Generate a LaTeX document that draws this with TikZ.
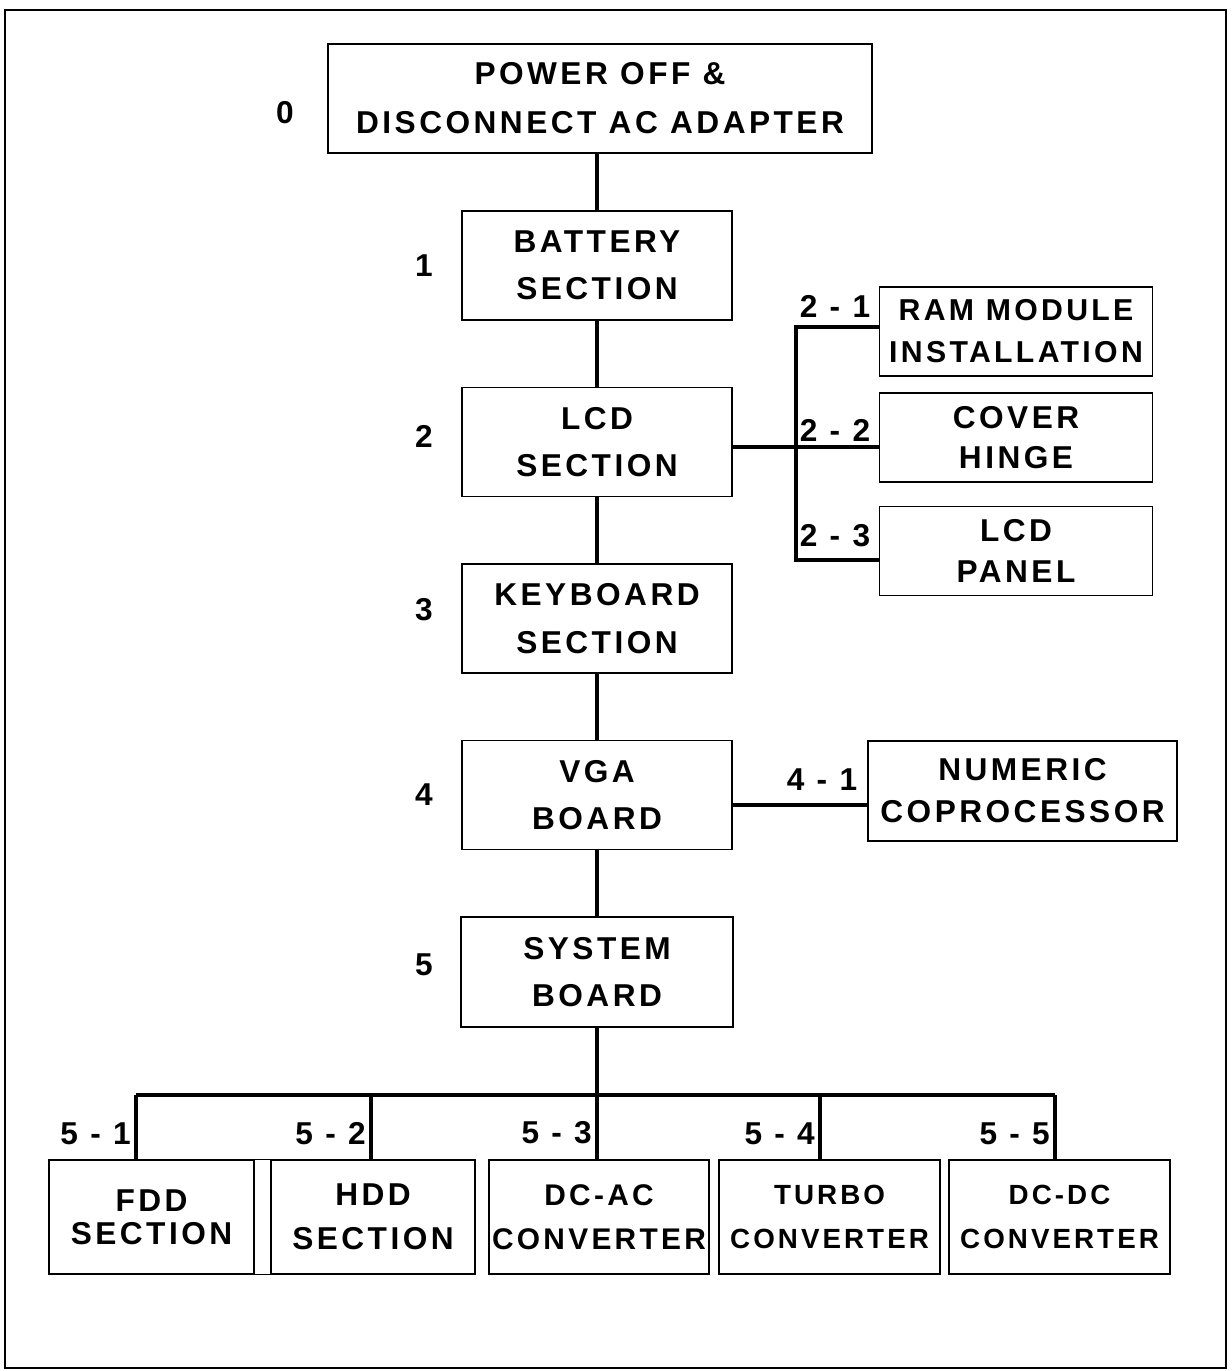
\documentclass[tikz,border=0pt]{standalone}
\usepackage{fontspec}
\setmainfont{Liberation Sans}
\newfontfamily\chartfont{Liberation Sans}[LetterSpace=11, WordSpace=1.35]
\newfontfamily\tagfont{Liberation Sans}[LetterSpace=11]
\usetikzlibrary{positioning}

\begin{document}
\begin{tikzpicture}[x=0.02cm, y=-0.02cm]
    \tikzstyle{sbox}=[rectangle, draw=black, line width=0.8pt, inner sep=0pt,
                      align=center, font=\chartfont\bfseries\fontsize{18}{27}\selectfont]
    \tikzstyle{wire}=[line width=2pt, black]
    \tikzstyle{num}=[font=\tagfont\bfseries\fontsize{18}{20}\selectfont, inner sep=2pt]

    \useasboundingbox (0,0) rectangle (1231,1371);
    \draw[line width=0.9pt] (5,10) rectangle (1226,1368);

    % main column
    \node[sbox, minimum width=10.88cm, minimum height=2.18cm,
          font=\chartfont\bfseries\fontsize{18}{28}\selectfont] (pwr) at (600,98.5)
          {POWER OFF \&\\DISCONNECT AC ADAPTER};
    \node[sbox, minimum width=5.4cm, minimum height=2.18cm] (bat) at (597,265.5) {BATTERY\\SECTION};
    \node[sbox, minimum width=5.4cm, minimum height=2.18cm] (lcd) at (597,442) {LCD\\SECTION};
    \node[sbox, minimum width=5.4cm, minimum height=2.18cm] (kbd) at (597,618.5) {KEYBOARD\\SECTION};
    \node[sbox, minimum width=5.4cm, minimum height=2.18cm] (vga) at (597,795) {VGA\\BOARD};
    \node[sbox, minimum width=5.44cm, minimum height=2.2cm] (sys) at (597,972) {SYSTEM\\BOARD};

    % step numbers
    \node[num] (n0) at (285,113) {0};
    \node[num] (n1) at (424,266) {1};
    \node[num] (n2) at (424,436) {2};
    \node[num] (n3) at (424,610) {3};
    \node[num] (n4) at (424,795) {4};
    \node[num] (n5) at (424,965) {5};

    % LCD branch
    \node[sbox, minimum width=5.45cm, minimum height=1.78cm,
          font=\chartfont\bfseries\fontsize{17.2}{24}\selectfont] (ram) at (1016,331.5)
          {RAM MODULE\\INSTALLATION};
    \node[sbox, minimum width=5.45cm, minimum height=1.78cm,
          font=\chartfont\bfseries\fontsize{18}{23}\selectfont] (hng) at (1016,437.5) {COVER\\HINGE};
    \node[sbox, minimum width=5.45cm, minimum height=1.78cm,
          font=\chartfont\bfseries\fontsize{18}{23}\selectfont] (pnl) at (1016,551) {LCD\\PANEL};

    % VGA branch
    \node[sbox, minimum width=6.18cm, minimum height=2.0cm,
          font=\chartfont\bfseries\fontsize{18}{24}\selectfont] (cop) at (1022.5,791)
          {NUMERIC\\COPROCESSOR};

    % system board parts
    \node[sbox, minimum width=4.1cm, minimum height=2.28cm,
          font=\chartfont\bfseries\fontsize{18}{19}\selectfont] (fdd) at (151.5,1217) {FDD\\SECTION};
    \node[sbox, minimum width=4.08cm, minimum height=2.28cm,
          font=\chartfont\bfseries\fontsize{18}{25}\selectfont] (hdd) at (373,1217) {HDD\\SECTION};
    \node[sbox, minimum width=4.4cm, minimum height=2.28cm,
          font=\chartfont\bfseries\fontsize{17}{25}\selectfont] (dca) at (599,1217) {DC-AC\\CONVERTER};
    \node[sbox, minimum width=4.42cm, minimum height=2.28cm,
          font=\chartfont\bfseries\fontsize{15.8}{25}\selectfont] (tbo) at (829.5,1217) {TURBO\\CONVERTER};
    \node[sbox, minimum width=4.42cm, minimum height=2.28cm,
          font=\chartfont\bfseries\fontsize{15.8}{25}\selectfont] (dcd) at (1059.5,1217) {DC-DC\\CONVERTER};
    \draw[line width=0.8pt] (fdd.north east) rectangle (hdd.south west);

    % spine
    \draw[wire] (bat.north |- pwr.south) -- (bat.north);
    \draw[wire] (bat) -- (lcd);
    \draw[wire] (lcd) -- (kbd);
    \draw[wire] (kbd) -- (vga);
    \draw[wire] (vga) -- (sys);

    % LCD taps
    \coordinate (tap) at (796,447);
    \coordinate (rtop) at (796,327);
    \coordinate (rbot) at (796,560);
    \draw[wire] (lcd.east |- tap) -- (tap) -- (tap -| hng.west);
    \draw[wire] (ram.west |- rtop) -- (rtop) -- (rbot) -- (rbot -| pnl.west);
    \node[num] (l21) at (835,306) {2 - 1};
    \node[num] (l22) at (835,430) {2 - 2};
    \node[num] (l23) at (835,536) {2 - 3};

    % coprocessor tap
    \coordinate (ctap) at (800,805);
    \draw[wire] (vga.east |- ctap) -- (ctap -| cop.west);
    \node[num] (l41) at (822,780) {4 - 1};

    % bus to the board parts
    \coordinate (b1) at (136,1095);
    \coordinate (b2) at (371,1095);
    \coordinate (b4) at (820,1095);
    \coordinate (b5) at (1055,1095);
    \draw[wire] (b1) -- (b5);
    \draw[wire] (sys.south) -- (sys.south |- dca.north) node[num, left, pos=0.8] {5 - 3};
    \draw[wire] (b1) -- (b1 |- fdd.north) node[num, left, pos=0.6] {5 - 1};
    \draw[wire] (b2) -- (b2 |- hdd.north) node[num, left, pos=0.6] {5 - 2};
    \draw[wire] (b4) -- (b4 |- tbo.north) node[num, left, pos=0.6] {5 - 4};
    \draw[wire] (b5) -- (b5 |- dcd.north) node[num, left, pos=0.6] {5 - 5};
\end{tikzpicture}
\end{document}
